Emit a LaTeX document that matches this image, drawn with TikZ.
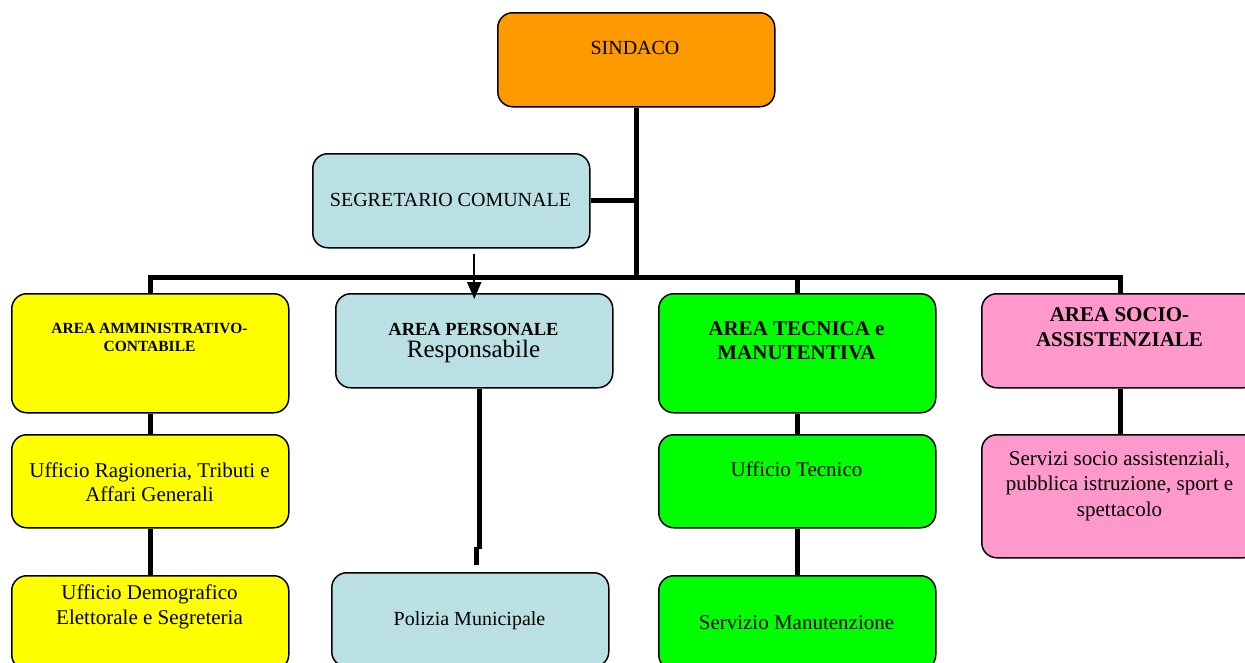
\documentclass[tikz,border=0pt]{standalone}
\usepackage{fontspec}
\setmainfont{Liberation Serif}
\usetikzlibrary{arrows.meta}
\tikzset{
box/.style = {draw = black, line width = 1.5pt, rounded corners = 15pt, anchor = north west, minimum width = 277pt, minimum height = 94pt, inner sep = 0pt},
link/.style = {draw = black, line width = 5pt},
pointer/.style = {draw = black, line width = 2pt, -{Triangle[length = 17pt, width = 14pt]}},
lbl/.style = {align = center, inner sep = 0pt, font = \fontsize{21}{24.5}\selectfont}
}
\begin{document}
\begin{tikzpicture}[x = 1pt, y = -1pt]
\definecolor{sindacoorange}{HTML}{FF9900}
\definecolor{paleblue}{HTML}{BBE0E3}
\definecolor{areayellow}{HTML}{FFFF00}
\definecolor{areagreen}{HTML}{00FF00}
\definecolor{areapink}{HTML}{FF99CC}
\useasboundingbox (0,0) rectangle (1245,662);
\clip (0,0) rectangle (1245,662);
\node[box, fill = sindacoorange] (sindaco) at (497,12) {};
\node[box, fill = paleblue] (segretario) at (312,153) {};
\node[box, fill = areayellow, minimum height = 119pt] (ammin) at (11,293) {};
\node[box, fill = paleblue] (personale) at (335,293) {};
\node[box, fill = areagreen, minimum height = 119pt] (tecnica) at (658,293) {};
\node[box, fill = areapink] (socio) at (981,293) {};
\node[box, fill = areayellow, minimum height = 93pt] (ragioneria) at (11,434) {};
\node[box, fill = areagreen, minimum height = 93pt] (ufftecnico) at (658,434) {};
\node[box, fill = areapink, minimum height = 123pt] (servizi) at (981,434) {};
\node[box, fill = areayellow] (demografico) at (11,575) {};
\node[box, fill = paleblue] (polizia) at (331,572) {};
\node[box, fill = areagreen] (manutenzione) at (658,575) {};
\node[lbl, font = \fontsize{20}{24}\selectfont] (sindacoT) at (635,48) {SINDACO};
\node[lbl, font = \fontsize{20}{24}\selectfont] (segretarioT) at (450.5,200) {SEGRETARIO COMUNALE};
\node[lbl, font = \fontsize{15.5}{18}\selectfont\bfseries] (amminT) at (149.5,337) {AREA AMMINISTRATIVO-\\CONTABILE};
\node[lbl, font = \fontsize{18.5}{22}\selectfont] (personaleT) at (473.5,343) {\textbf{AREA PERSONALE}\\{\fontsize{25}{27}\selectfont Responsabile}};
\node[lbl, font = \fontsize{21}{24}\selectfont\bfseries] (tecnicaT) at (796.5,341) {AREA TECNICA e\\MANUTENTIVA};
\node[lbl, font = \fontsize{21}{25}\selectfont\bfseries] (socioT) at (1119.5,327.5) {AREA SOCIO-\\ASSISTENZIALE};
\node[lbl] (ragioneriaT) at (149.5,482) {Ufficio Ragioneria, Tributi e\\Affari Generali};
\node[lbl] (ufftecnicoT) at (796.5,469) {Ufficio Tecnico};
\node[lbl, font = \fontsize{21}{25.5}\selectfont] (serviziT) at (1119.5,485.5) {Servizi socio assistenziali,\\pubblica istruzione, sport e\\spettacolo};
\node[lbl] (demograficoT) at (149.5,607) {Ufficio Demografico\\Elettorale e Segreteria};
\node[lbl, font = \fontsize{20}{24}\selectfont] (poliziaT) at (469.5,621) {Polizia Municipale};
\node[lbl] (manutenzioneT) at (796.5,622.5) {Servizio Manutenzione};
\draw[link] (sindaco.south) -- ++(0,171);
\draw[link] (segretario.east) -- (segretario.east -| sindaco.south);
\draw[link] (ammin.north) -- ++(0,-16) -| (socio.north);
\draw[link] (tecnica.north) -- ++(0,-16);
\draw[pointer, shorten < = 5pt, shorten > = -6pt] (personale.north |- segretario.south) -- (personale.north);
\draw[link] (ammin.south) -- (ragioneria.north);
\draw[link] (ragioneria.south) -- (demografico.north);
\draw[link] (tecnica.south) -- (ufftecnico.north);
\draw[link] (ufftecnico.south) -- (manutenzione.north);
\draw[link] (socio.south) -- (servizi.north);
\coordinate (stubtop) at (476,547);
\coordinate (stubend) at (476,565);
\draw[link] ([xshift = 5.5pt]personale.south) -- ([xshift = 5.5pt]personale.south |- 0,549);
\draw[link] (stubtop) -- (stubend);
\end{tikzpicture}
\end{document}
